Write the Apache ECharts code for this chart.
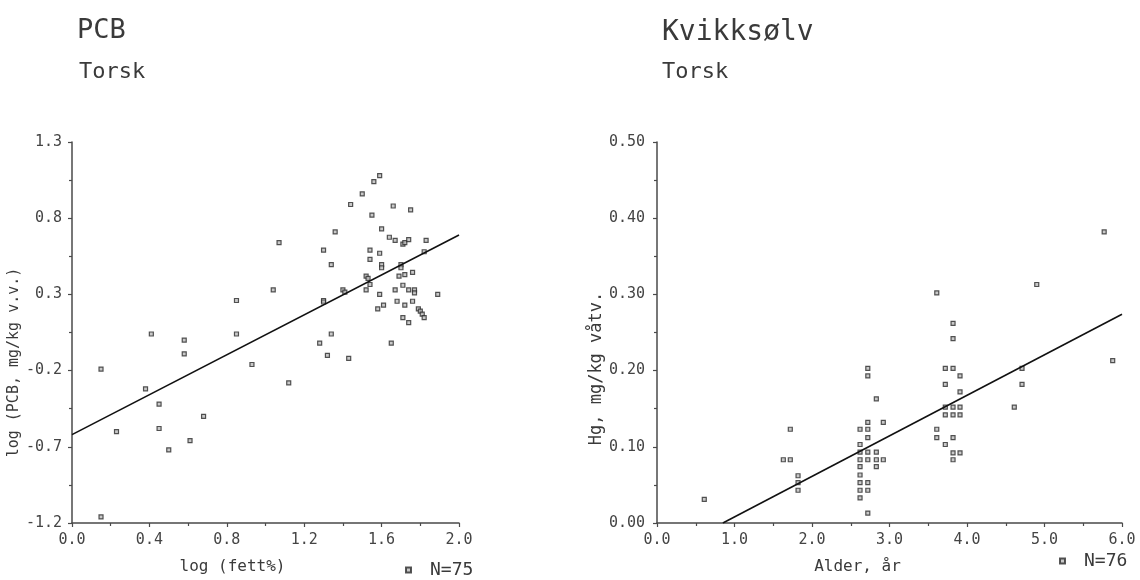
<!DOCTYPE html>
<html>
<head>
<meta charset="utf-8">
<script src="https://cdn.jsdelivr.net/npm/echarts@6/dist/echarts.min.js"></script>
<style>
  html, body { margin: 0; padding: 0; background: #fff; }
  #chart { width: 1140px; height: 580px; }
</style>
</head>
<body>
<div id="chart"></div>
<script>
// PCB mot log(fett%) - punkter [log fett%, log PCB]
var pcbPoints = [
  [0.41, 0.04], [0.58, 0.00], [0.85, 0.04], [0.85, 0.26], [1.04, 0.33], [1.07, 0.64],
  [0.15, -0.19], [0.38, -0.32], [0.58, -0.09], [0.93, -0.16], [0.23, -0.60], [0.45, -0.42],
  [0.45, -0.58], [0.68, -0.50], [0.50, -0.72], [0.61, -0.66], [0.15, -1.16],
  [1.12, -0.28], [1.28, -0.02], [1.34, 0.04], [1.32, -0.10], [1.43, -0.12], [1.65, -0.02],
  [1.59, 1.08], [1.56, 1.04], [1.50, 0.96], [1.44, 0.89], [1.66, 0.88], [1.75, 0.855],
  [1.55, 0.82], [1.60, 0.73], [1.36, 0.71], [1.64, 0.675], [1.67, 0.655], [1.71, 0.63],
  [1.72, 0.64], [1.74, 0.66], [1.83, 0.655], [1.82, 0.58], [1.30, 0.59], [1.54, 0.59],
  [1.59, 0.57], [1.54, 0.53], [1.34, 0.495], [1.60, 0.495], [1.60, 0.475], [1.70, 0.495],
  [1.70, 0.475], [1.69, 0.42], [1.72, 0.43], [1.76, 0.445], [1.52, 0.42], [1.53, 0.405],
  [1.54, 0.365], [1.40, 0.33], [1.41, 0.315], [1.52, 0.33], [1.59, 0.30], [1.67, 0.33],
  [1.74, 0.33], [1.77, 0.33], [1.77, 0.31], [1.89, 0.30], [1.71, 0.36], [1.30, 0.26],
  [1.30, 0.25], [1.68, 0.255], [1.72, 0.23], [1.76, 0.255], [1.61, 0.23], [1.58, 0.205],
  [1.79, 0.205], [1.80, 0.19], [1.81, 0.17], [1.82, 0.147], [1.71, 0.147], [1.74, 0.115]
];
var pcbLine = [[0.0, -0.62], [2.0, 0.69]];

// Kvikksolv mot alder - punkter [alder, Hg]
var hgPoints = [
  [0.61, 0.031], [1.72, 0.123], [1.63, 0.083], [1.72, 0.083], [1.82, 0.062], [1.82, 0.053], [1.82, 0.043],
  [2.62, 0.123], [2.62, 0.103], [2.62, 0.093], [2.62, 0.083], [2.62, 0.074], [2.62, 0.063],
  [2.62, 0.053], [2.62, 0.043], [2.62, 0.033],
  [2.72, 0.203], [2.72, 0.193], [2.72, 0.132], [2.72, 0.123], [2.72, 0.112], [2.72, 0.093],
  [2.72, 0.083], [2.72, 0.053], [2.72, 0.043], [2.72, 0.013],
  [2.83, 0.163], [2.83, 0.093], [2.83, 0.083], [2.83, 0.074], [2.92, 0.132], [2.92, 0.083],
  [3.61, 0.302], [3.61, 0.123], [3.61, 0.112],
  [3.72, 0.203], [3.72, 0.182], [3.72, 0.152], [3.72, 0.142], [3.72, 0.103],
  [3.82, 0.262], [3.82, 0.242], [3.82, 0.203], [3.82, 0.152], [3.82, 0.142], [3.82, 0.112],
  [3.82, 0.092], [3.82, 0.083],
  [3.91, 0.193], [3.91, 0.172], [3.91, 0.152], [3.91, 0.142], [3.91, 0.092],
  [4.61, 0.152], [4.71, 0.203], [4.71, 0.182], [4.90, 0.313], [5.77, 0.382], [5.88, 0.213]
];
var hgLine = [[0.85, 0.0], [6.0, 0.274]];

var titles = ['PCB', 'Kvikksølv'];
var subtitles = ['Torsk', 'Torsk'];
var xNames = ['log (fett%)', 'Alder, år'];
var yNames = ['log (PCB, mg/kg v.v.)', 'Hg, mg/kg våtv.'];
var countLabels = ['N=75', 'N=76'];

var font = 'DejaVu Sans Mono';
var ink = '#3a3a3a';

var chart = echarts.init(document.getElementById('chart'));

function axisBase() {
  return {
    axisLine: { show: true, onZero: false, lineStyle: { color: '#4a4a4a', width: 1.5 } },
    axisTick: { show: true, length: 4, lineStyle: { color: '#4a4a4a', width: 1.2 } },
    minorTick: { show: true, splitNumber: 2, length: 3, lineStyle: { color: '#4a4a4a', width: 1.2 } },
    splitLine: { show: false },
    axisLabel: { color: '#444', fontFamily: font, fontSize: 15 },
    nameTextStyle: { color: ink, fontFamily: font }
  };
}

var xA0 = axisBase();
Object.assign(xA0, {
  type: 'value', gridIndex: 0, min: 0, max: 2.0, interval: 0.4,
  name: xNames[0], nameLocation: 'middle', nameGap: 36
});
xA0.axisLabel.margin = 10;
xA0.axisLabel.formatter = function (v) { return v.toFixed(1); };
xA0.nameTextStyle.fontSize = 16;
xA0.nameTextStyle.padding = [0, 66, 0, 0];

var xA1 = axisBase();
Object.assign(xA1, {
  type: 'value', gridIndex: 1, min: 0, max: 6.0, interval: 1.0,
  name: xNames[1], nameLocation: 'middle', nameGap: 36
});
xA1.axisLabel.margin = 10;
xA1.axisLabel.formatter = function (v) { return v.toFixed(1); };
xA1.nameTextStyle.fontSize = 16;
xA1.nameTextStyle.padding = [0, 64, 0, 0];

var yA0 = axisBase();
Object.assign(yA0, {
  type: 'value', gridIndex: 0, min: -1.2, max: 1.3, interval: 0.5,
  name: yNames[0], nameLocation: 'middle', nameGap: 42, nameRotate: 90
});
yA0.axisLabel.margin = 10;
yA0.axisLabel.formatter = function (v) { return v.toFixed(1); };
yA0.nameTextStyle.fontSize = 15;
yA0.nameTextStyle.padding = [0, 60, 0, 0];

var yA1 = axisBase();
Object.assign(yA1, {
  type: 'value', gridIndex: 1, min: 0, max: 0.5, interval: 0.1,
  name: yNames[1], nameLocation: 'middle', nameGap: 42, nameRotate: 90
});
yA1.axisLabel.margin = 12;
yA1.axisLabel.formatter = function (v) { return v.toFixed(2); };
yA1.nameTextStyle.fontSize = 17;
yA1.nameTextStyle.padding = [0, 72, 0, 0];

var pointStyle = { color: '#bbb', borderColor: '#2a2a2a', borderWidth: 1.2 };

option = {
  backgroundColor: '#fff',
  animation: false,
  title: [
    { text: titles[0], left: 72, top: 12, textStyle: { fontFamily: font, fontSize: 27, fontWeight: 'normal', color: ink } },
    { text: subtitles[0], left: 74, top: 56, textStyle: { fontFamily: font, fontSize: 22, fontWeight: 'normal', color: ink } },
    { text: titles[1], left: 657, top: 14, textStyle: { fontFamily: font, fontSize: 28, fontWeight: 'normal', color: ink } },
    { text: subtitles[1], left: 657, top: 56, textStyle: { fontFamily: font, fontSize: 22, fontWeight: 'normal', color: ink } }
  ],
  legend: [
    {
      data: [countLabels[0]], left: 400, top: 556, icon: 'rect', itemWidth: 5, itemHeight: 5,
      textStyle: { fontFamily: font, fontSize: 18, color: ink, padding: [0, 0, 0, 14] }
    },
    {
      data: [countLabels[1]], left: 1054, top: 547, icon: 'rect', itemWidth: 5, itemHeight: 5,
      textStyle: { fontFamily: font, fontSize: 18, color: ink, padding: [0, 0, 0, 14] }
    }
  ],
  grid: [
    { left: 72, top: 142, width: 387, height: 388 },
    { left: 657, top: 142, width: 465, height: 387 }
  ],
  xAxis: [xA0, xA1],
  yAxis: [yA0, yA1],
  series: [
    {
      name: countLabels[0], type: 'scatter', xAxisIndex: 0, yAxisIndex: 0,
      symbol: 'rect', symbolSize: 4, itemStyle: pointStyle, data: pcbPoints
    },
    {
      type: 'line', xAxisIndex: 0, yAxisIndex: 0, showSymbol: false, symbol: 'none',
      lineStyle: { color: '#111', width: 1.6 }, data: pcbLine
    },
    {
      name: countLabels[1], type: 'scatter', xAxisIndex: 1, yAxisIndex: 1,
      symbol: 'rect', symbolSize: 4, itemStyle: pointStyle, data: hgPoints
    },
    {
      type: 'line', xAxisIndex: 1, yAxisIndex: 1, showSymbol: false, symbol: 'none',
      lineStyle: { color: '#111', width: 1.6 }, data: hgLine
    }
  ]
};

chart.setOption(option);
</script>
</body>
</html>
